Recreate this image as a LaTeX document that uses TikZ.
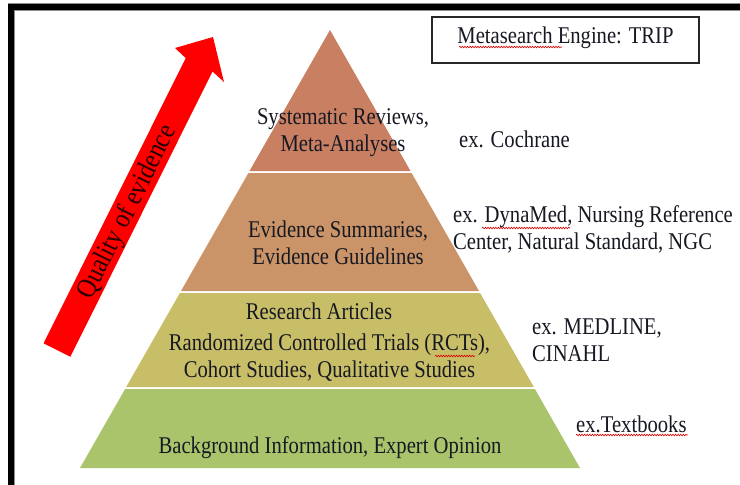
\documentclass[tikz,border=0pt]{standalone}
\usepackage{fontspec}
\setmainfont{Liberation Serif}[FakeStretch=0.86]
\usetikzlibrary{decorations.pathmorphing}
\definecolor{layA}{RGB}{201,127,98}
\definecolor{layB}{RGB}{202,148,104}
\definecolor{layC}{RGB}{201,190,104}
\definecolor{layD}{RGB}{170,196,108}
\definecolor{ink}{RGB}{22,24,34}
\definecolor{arrowred}{RGB}{255,0,0}
\begin{document}
\begin{tikzpicture}[x=1pt,y=-1pt,
  txt/.style={font=\fontsize{24}{27}\selectfont, text=ink, inner sep=0pt},
  squig/.style={red!85!black, line width=0.6pt, decorate,
    decoration={snake, amplitude=0.8pt, segment length=2.6pt}},
  layer/.style={draw=none}]
\useasboundingbox (0,0) rectangle (740,485);
\fill[white] (0,0) rectangle (740,485);
% frame
\fill[black] (8,4) rectangle (740,10);
\fill[black] (8,4) rectangle (14,485);
\draw[black!45, line width=0.8pt] (8,3.6) -- (740,3.6);
\draw[black!45, line width=0.8pt] (14.4,10.4) -- (740,10.4);
\draw[black!45, line width=0.8pt] (14.4,10.4) -- (14.4,485);
% pyramid layers
\fill[layA] (330,30) -- (410.5,171) -- (249.5,171) -- cycle;
\fill[layB] (248.4,173) -- (411.6,173) -- (479.0,291) -- (181.0,291) -- cycle;
\fill[layC] (179.9,293) -- (480.1,293) -- (533.8,387) -- (126.2,387) -- cycle;
\fill[layD] (125.1,389) -- (534.9,389) -- (580,468) -- (80,468) -- cycle;
% quality arrow
\fill[arrowred] (43.6,343.3) -- (185.7,58.1) -- (175,48) -- (213,37)
  -- (224,82) -- (212.5,71.5) -- (70.4,356.7) -- cycle;
\node[txt, font=\fontsize{28}{30}\selectfont, text={rgb,255:red,40;green,0;blue,0}, rotate=63.5]
  (quality) at (128,212) {Quality of evidence};
% engine box
\node[txt, draw=black!85, line width=1.1pt, minimum width=267pt, minimum height=46pt,
  text height=14pt, text depth=8pt] (engine) at (565.5,40) {Metasearch Engine: TRIP};
% pyramid texts
\node[txt, align=center] (sys) at (343,133) {Systematic Reviews,\\Meta-Analyses};
\node[txt, align=center] (evi) at (338,243) {Evidence Summaries,\\Evidence Guidelines};
\node[txt, anchor=base] (ra) at (319,319) {Research Articles};
\node[txt, align=center] (rct) at (329.5,357.5) {Randomized Controlled Trials (RCTs),\\Cohort Studies, Qualitative Studies};
\node[txt, anchor=base] (bg) at (330,453) {Background Information, Expert Opinion};
% examples
\node[txt, anchor=base west] (coch) at (459,147) {ex. Cochrane};
\node[txt, align=left, anchor=west] (dyna) at (453,229) {ex. DynaMed, Nursing Reference\\Center, Natural Standard, NGC};
\node[txt, align=left, anchor=west] (med) at (532,340) {ex. MEDLINE,\\CINAHL};
\node[txt, anchor=base west] (tb) at (576,432) {ex.Textbooks};
% spell-check squiggles
\draw[squig] (459,47) -- (562,47);
\draw[squig] (482,228) -- (570,228);
\draw[squig] (435,356) -- (475,356);
\draw[squig] (576,435) -- (688,435);
\end{tikzpicture}
\end{document}
